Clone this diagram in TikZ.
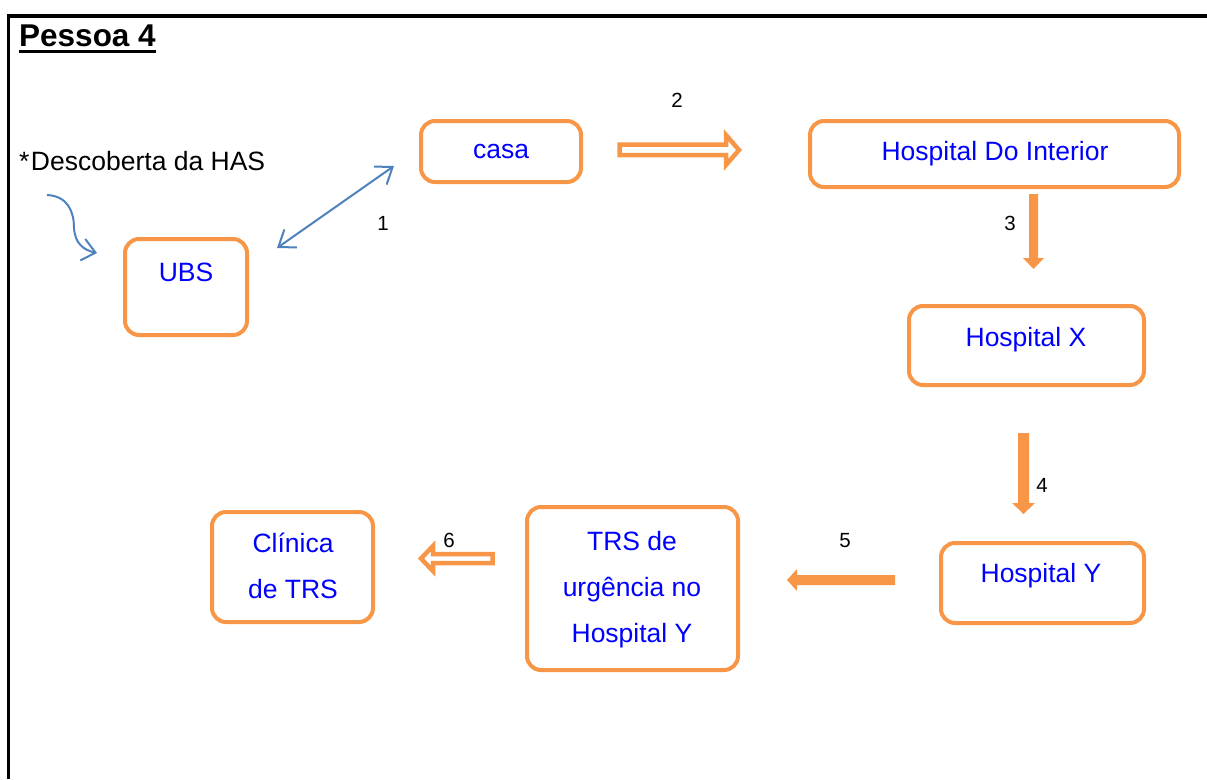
\documentclass[tikz,border=0pt]{standalone}
\usepackage{fontspec}
\setmainfont{Liberation Sans}
\usetikzlibrary{arrows.meta}
\definecolor{boxorange}{HTML}{F79646}
\definecolor{linkblue}{HTML}{4F81BD}
\definecolor{textblue}{HTML}{0000FF}

\begin{document}
\begin{tikzpicture}[x=1pt,y=-1pt,
  box/.style={draw=boxorange, line width=4pt, rounded corners=14pt, fill=white, inner sep=0pt},
  lbl/.style={text=textblue, font=\fontsize{26.5}{46}\selectfont, inner sep=0pt, anchor=base},
  num/.style={font=\fontsize{20.5}{24}\selectfont, inner sep=0pt, anchor=base},
  solidarrow/.style={fill=boxorange, draw=none},
  hollowarrow/.style={draw=boxorange, line width=4.5pt, fill=white, line join=miter},
  bluelink/.style={draw=linkblue, line width=2pt,
    arrows={Straight Barb[length=15pt, width=22pt, line width=2pt]-Straight Barb[length=15pt, width=22pt, line width=2pt]}},
  bluecurve/.style={draw=linkblue, line width=2pt,
    -{Straight Barb[length=13pt, width=22pt, line width=2pt]}}
]
\useasboundingbox (0,0) rectangle (1207,779);

% outer frame
\draw[line width=3.5pt] (1207,16) -- (8.5,16) -- (8.5,779);

% heading
\node[anchor=base west, font=\bfseries\fontsize{31.5}{36}\selectfont, inner sep=0pt] (title) at (19,46) {Pessoa 4};
\draw[line width=3pt] ([yshift=-5.5pt]title.base west) -- ([yshift=-5.5pt]title.base east);

% boxes
\node[box, minimum width=160pt, minimum height=61pt] (casa) at (501,151.5) {};
\node[box, minimum width=369pt, minimum height=66pt] (hdi) at (994.5,154) {};
\node[box, minimum width=122pt, minimum height=96pt] (ubs) at (186,287) {};
\node[box, minimum width=235pt, minimum height=79pt] (hx) at (1026.5,345.5) {};
\node[box, minimum width=203pt, minimum height=80pt] (hy) at (1042.5,583) {};
\node[box, minimum width=211pt, minimum height=163pt] (trs) at (632.5,588.5) {};
\node[box, minimum width=161pt, minimum height=110pt] (cli) at (292.5,567) {};

% box texts
\node[lbl] (casa-t) at (501,158) {casa};
\node[lbl] (hdi-t) at (995,160) {Hospital Do Interior};
\node[lbl] (ubs-t) at (186,281) {UBS};
\node[lbl] (hx-t) at (1026,346) {Hospital X};
\node[lbl] (hy-t) at (1041,582) {Hospital Y};
\node[lbl, align=center, anchor=north] (trs-t) at (632,531) {TRS de\\urgência no\\Hospital Y};
\node[lbl, align=center, anchor=north] (cli-t) at (293,533) {Clínica\\de TRS};

% note on the left
\node[anchor=base west, font=\fontsize{26.5}{30}\selectfont, inner sep=0pt] (has) at (19,170) {*\kern1.5pt Descoberta da HAS};

% blue links
\coordinate (curve-start) at (47,195);
\coordinate (curve-end) at (97,253);
\draw[bluecurve] (curve-start) .. controls (68,196) and (74,212) .. (74,228)
  .. controls (75,244) and (84,250) .. (curve-end);
\coordinate (link-a) at (277,248);
\coordinate (link-b) at (394,166);
\draw[bluelink] (link-a) -- (link-b);

% numbers
\node[num] (n1) at (383,230) {1};
\node[num] (n2) at (677,107) {2};
\node[num] (n3) at (1010,230) {3};
\node[num] (n4) at (1042,492) {4};
\node[num] (n5) at (845,547) {5};
\node[num] (n6) at (449,547) {6};

% block arrows
\draw[hollowarrow] (619.5,144.5) -- (726,144.5) -- (726,135) -- (739,150) -- (726,165) -- (726,155) -- (619.5,155) -- cycle;
\fill[solidarrow] (1029,194) -- (1038,194) -- (1038,258) -- (1044,258) -- (1033.5,269) -- (1023,258) -- (1029,258) -- cycle;
\fill[solidarrow] (1018,433) -- (1029,433) -- (1029,503) -- (1035,503) -- (1023.5,514) -- (1012,503) -- (1018,503) -- cycle;
\fill[solidarrow] (895,575) -- (895,585) -- (797,585) -- (797,591) -- (787,580) -- (797,569) -- (797,575) -- cycle;
\draw[hollowarrow] (492.5,554) -- (492.5,563) -- (433,563) -- (433,571) -- (421,558.5) -- (433,546) -- (433,554) -- cycle;
\end{tikzpicture}
\end{document}
